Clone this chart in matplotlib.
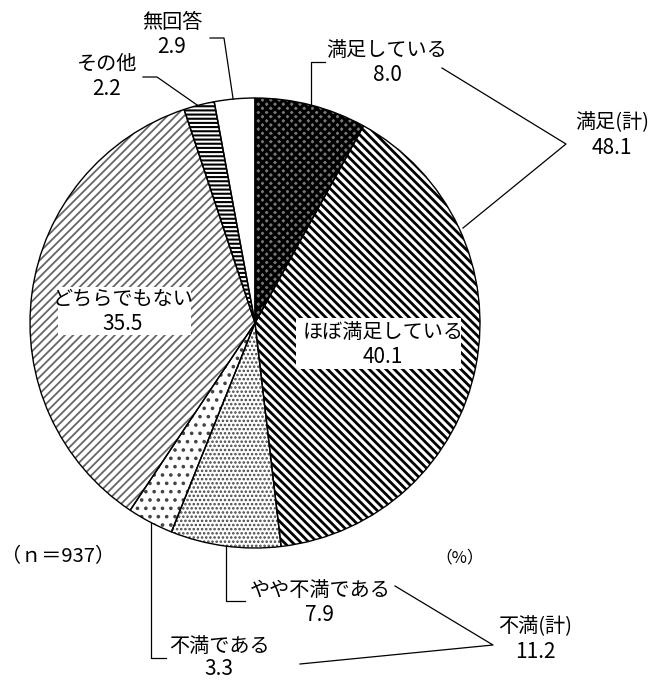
import numpy as np
import matplotlib
matplotlib.use("Agg")
import matplotlib.pyplot as plt
from matplotlib.patches import Rectangle

plt.rcParams['font.family'] = ['Noto Sans CJK JP', 'DejaVu Sans']
plt.rcParams['hatch.linewidth'] = 1.6

# data
labels = ["満足している", "ほぼ満足している", "やや不満である", "不満である",
          "どちらでもない", "その他", "無回答"]
values = [8.0, 40.1, 7.9, 3.3, 35.5, 2.2, 2.9]
hatches = ["xxxx", "\\\\\\\\", "....", "..", "////", "----", ""]
hatch_colors = ["black", "black", "#444444", "#444444", "#666666", "black", "white"]
hatch_widths = [2.2, 2.0, 1.2, 1.4, 1.3, 1.5, 1.0]
face_colors = ["#777777", "white", "white", "white", "white", "white", "white"]

# pixel helpers (figure is 661x680 px, y measured from top)
W, H = 661, 680
cx, cy, r = 255, 323, 225

def P(x, y):
    return x, H - y

def arc_point(frac_mid):
    ang = np.deg2rad(90 - 360 * frac_mid / 100.0)
    return cx + r * np.cos(ang), cy - r * np.sin(ang)

fig = plt.figure(figsize=(6.61, 6.80), dpi=100)
ax = fig.add_axes([0, 0, 1, 1])

wedges, _ = ax.pie(values, startangle=90, counterclock=False,
                   center=P(cx, cy), radius=r, colors=face_colors,
                   wedgeprops=dict(linewidth=0))
for w, h, c, lw in zip(wedges, hatches, hatch_colors, hatch_widths):
    w.set_hatch(h)
    w.set_edgecolor(c)
    if hasattr(w, "set_hatch_linewidth"):
        w.set_hatch_linewidth(lw)
# outlines
ax.pie(values, startangle=90, counterclock=False, center=P(cx, cy), radius=r,
       wedgeprops=dict(linewidth=1.0, edgecolor="black", fill=False))

ax.set_xlim(0, W)
ax.set_ylim(0, H)
ax.set_aspect("equal")
ax.axis("off")

num_font = ['Liberation Sans Narrow', 'Noto Sans CJK JP']
fs = 14.5

def label(x, y, name, val, gap=25):
    ax.text(*P(x, y), name, ha="center", va="center", fontsize=fs, zorder=5)
    ax.text(*P(x, y + gap), val, ha="center", va="center", fontsize=fs + 0.5,
            family=num_font, zorder=5)

def line(pts):
    xs = [p[0] for p in pts]
    ys = [H - p[1] for p in pts]
    ax.plot(xs, ys, color="black", linewidth=0.9, zorder=4)

cum = np.cumsum([0] + values)
mids = (cum[:-1] + cum[1:]) / 2

# white boxes for inside labels
ax.add_patch(Rectangle(P(296, 369), 165, 51, facecolor="white", edgecolor="none", zorder=3))
ax.add_patch(Rectangle(P(58, 335), 133, 48, facecolor="white", edgecolor="none", zorder=3))

label(383, 332, labels[1], f"{values[1]:.1f}")
label(123, 299, labels[4], f"{values[4]:.1f}")

label(387, 50, labels[0], f"{values[0]:.1f}")
label(172, 22, labels[6], f"{values[6]:.1f}")
label(107, 64, labels[5], f"{values[5]:.1f}")
label(320, 590, labels[2], f"{values[2]:.1f}")
label(219, 646, labels[3], f"{values[3]:.1f}", gap=23)

sat_total = values[0] + values[1]
dis_total = values[2] + values[3]
label(612, 123, "満足(計)", f"{sat_total:.1f}")
label(535, 627, "不満(計)", f"{dis_total:.1f}")

ax.text(*P(58, 557), "（ｎ＝937）", ha="center", va="center", fontsize=fs)
ax.text(*P(460, 558), "（%）", ha="center", va="center", fontsize=12)

# leader lines
x0, y0 = arc_point(mids[0])
line([(x0, y0), (x0, 62), (325, 62)])
x6, y6 = arc_point(mids[6])
line([(210, 38), (224, 38), (x6, y6)])
x5, y5 = arc_point(mids[5])
line([(143, 77), (157, 77), (x5, y5)])
x2, y2 = arc_point(mids[2])
line([(x2, y2), (x2, 601), (245, 601)])
x3, y3 = arc_point(mids[3])
line([(x3, y3), (x3, 658), (166, 658)])
line([(442, 68), (566, 144), (463, 228)])
line([(395, 586), (493, 645), (300, 664)])

fig.savefig("out.png", dpi=100)
